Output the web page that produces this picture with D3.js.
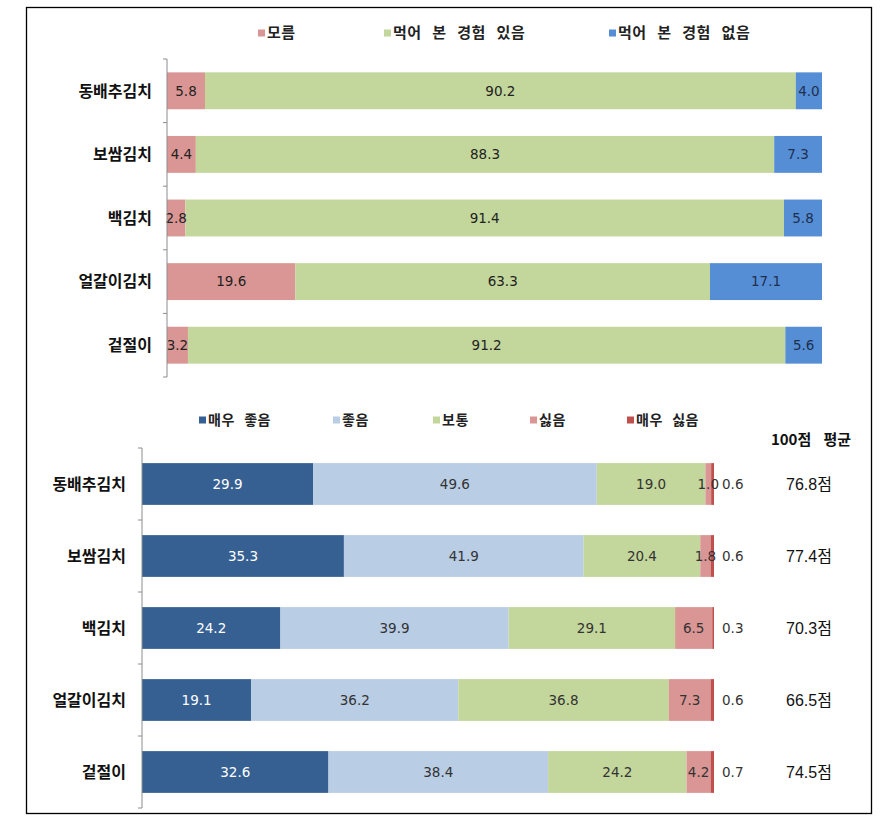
<!DOCTYPE html>
<html lang="ko">
<head>
  <meta charset="UTF-8">
  <title>김치 경험 및 선호도</title>
  <style>
    body { margin: 0; background: #fff; }
    svg { display: block; }
  </style>
</head>
<body>
<svg width="894" height="829" id="viz"></svg>
<script src="https://cdn.jsdelivr.net/npm/d3@7"></script>
<script>
/* global d3 */

// ---- data ----
const kimchi = ["동배추김치", "보쌈김치", "백김치", "얼갈이김치", "겉절이"];

// top: 먹어 본 경험
const expKeys = ["모름", "먹어 본 경험 있음", "먹어 본 경험 없음"];
const unknown = [5.8, 4.4, 2.8, 19.6, 3.2];
const eaten = [90.2, 88.3, 91.4, 63.3, 91.2];
const notEaten = [4.0, 7.3, 5.8, 17.1, 5.6];

// bottom: 선호도
const prefKeys = ["매우 좋음", "좋음", "보통", "싫음", "매우 싫음"];
const veryGood = [29.9, 35.3, 24.2, 19.1, 32.6];
const good = [49.6, 41.9, 39.9, 36.2, 38.4];
const normal = [19.0, 20.4, 29.1, 36.8, 24.2];
const bad = [1.0, 1.8, 6.5, 7.3, 4.2];
const veryBad = [0.6, 0.6, 0.3, 0.6, 0.7];
const avgScore = ["76.8점", "77.4점", "70.3점", "66.5점", "74.5점"];

const svg = d3.select("#viz");
const numFont = "'DejaVu Sans', Verdana, sans-serif";
const korFont = "'Noto Sans CJK KR', 'Noto Sans', sans-serif";

// outer frame
svg.append("rect")
  .attr("x", 26.5).attr("y", 7.5)
  .attr("width", 845).attr("height", 806)
  .attr("fill", "none").attr("stroke", "#000").attr("stroke-width", 1.3);

function stackedChart(cfg) {
  const rows = kimchi.map((k, i) => {
    const r = {name: k};
    cfg.keys.forEach((key, j) => { r[key] = cfg.series[j][i]; });
    return r;
  });
  const stacked = d3.stack().keys(cfg.keys)(rows);

  const x = d3.scaleLinear().domain([0, 100]).range(cfg.xRange);
  const y = d3.scaleBand().domain(kimchi).range(cfg.yRange).paddingInner(0.42).paddingOuter(0.21);
  const color = d3.scaleOrdinal().domain(cfg.keys).range(cfg.colors);

  const g = svg.append("g");

  const layer = g.selectAll(".layer")
    .data(stacked)
    .enter().append("g")
    .attr("fill", d => color(d.key));

  layer.selectAll("rect")
    .data(d => d)
    .enter().append("rect")
    .attr("x", d => x(d[0]))
    .attr("y", d => y(d.data.name))
    .attr("width", d => Math.max(0, x(Math.min(100, d[1])) - x(d[0])))
    .attr("height", y.bandwidth());

  // value labels
  stacked.forEach((s, j) => {
    const outside = cfg.outsideLast && j === cfg.keys.length - 1;
    g.selectAll(".lbl" + j)
      .data(s)
      .enter().append("text")
      .attr("x", d => outside ? x(100) + 8 : x((d[0] + Math.min(100, d[1])) / 2))
      .attr("y", d => y(d.data.name) + y.bandwidth() / 2)
      .attr("dy", "0.36em")
      .attr("text-anchor", outside ? "start" : "middle")
      .attr("font-family", numFont)
      .attr("font-size", cfg.numSize)
      .attr("fill", cfg.labelColors[j])
      .text(d => (d[1] - d[0]).toFixed(1));
  });

  // category axis
  const x0 = cfg.xRange[0];
  g.append("line")
    .attr("x1", x0).attr("x2", x0)
    .attr("y1", cfg.yRange[0]).attr("y2", cfg.yRange[1])
    .attr("stroke", "#8c8c8c");
  const bounds = kimchi.map(k => y(k) - y.step() * y.paddingInner() / 2);
  bounds.push(cfg.yRange[1]);
  g.selectAll(".tick")
    .data(bounds)
    .enter().append("line")
    .attr("x1", x0 - 4).attr("x2", x0)
    .attr("y1", d => d).attr("y2", d => d)
    .attr("stroke", "#8c8c8c");

  g.selectAll(".cat")
    .data(kimchi)
    .enter().append("text")
    .attr("x", x0 - cfg.catGap)
    .attr("y", d => y(d) + y.bandwidth() / 2)
    .attr("dy", "0.36em")
    .attr("text-anchor", "end")
    .attr("font-family", korFont)
    .attr("font-weight", "bold")
    .attr("font-size", 16)
    .attr("fill", "#111")
    .text(d => d);

  // legend
  const lg = g.selectAll(".legend")
    .data(cfg.keys)
    .enter().append("g")
    .attr("transform", (d, i) => "translate(" + cfg.legendX[i] + "," + cfg.legendY + ")");
  lg.append("rect")
    .attr("x", 0).attr("y", -3.5)
    .attr("width", 7).attr("height", 7)
    .attr("fill", d => color(d));
  lg.append("text")
    .attr("x", 9)
    .attr("dy", "0.36em")
    .attr("font-family", korFont)
    .attr("font-weight", "bold")
    .attr("font-size", cfg.legendSize)
    .attr("word-spacing", cfg.wordSpacing)
    .attr("letter-spacing", 0.5)
    .attr("fill", "#222")
    .text(d => d);

  return {x, y};
}

stackedChart({
  keys: expKeys,
  series: [unknown, eaten, notEaten],
  colors: ["#da9694", "#c3d69b", "#558ed5"],
  labelColors: ["#222", "#222", "#1f2f4f"],
  xRange: [167, 822],
  yRange: [59, 377],
  numSize: 13.5,
  catGap: 15,
  legendX: [258, 384, 609],
  legendY: 33,
  legendSize: 15,
  wordSpacing: 6
});

const bottom = stackedChart({
  keys: prefKeys,
  series: [veryGood, good, normal, bad, veryBad],
  colors: ["#376092", "#b9cde5", "#c3d69b", "#da9694", "#c0504d"],
  labelColors: ["#fff", "#333", "#333", "#333", "#333"],
  xRange: [142, 714],
  yRange: [448, 808],
  numSize: 13.5,
  catGap: 16,
  outsideLast: true,
  legendX: [199, 333, 433, 530, 627],
  legendY: 420,
  legendSize: 14,
  wordSpacing: 5
});

// 100점 평균
svg.append("text")
  .attr("x", 811).attr("y", 440)
  .attr("dy", "0.36em")
  .attr("text-anchor", "middle")
  .attr("font-family", korFont)
  .attr("font-weight", "bold")
  .attr("font-size", 15)
  .attr("word-spacing", 8)
  .attr("fill", "#111")
  .text("100점 평균");

svg.selectAll(".avg")
  .data(kimchi)
  .enter().append("text")
  .attr("x", 809)
  .attr("y", d => bottom.y(d) + bottom.y.bandwidth() / 2)
  .attr("dy", "0.36em")
  .attr("text-anchor", "middle")
  .attr("font-family", "'Liberation Sans', 'Noto Sans CJK KR', sans-serif")
  .attr("font-size", 16)
  .attr("fill", "#111")
  .text((d, i) => avgScore[i]);
</script>
</body>
</html>
